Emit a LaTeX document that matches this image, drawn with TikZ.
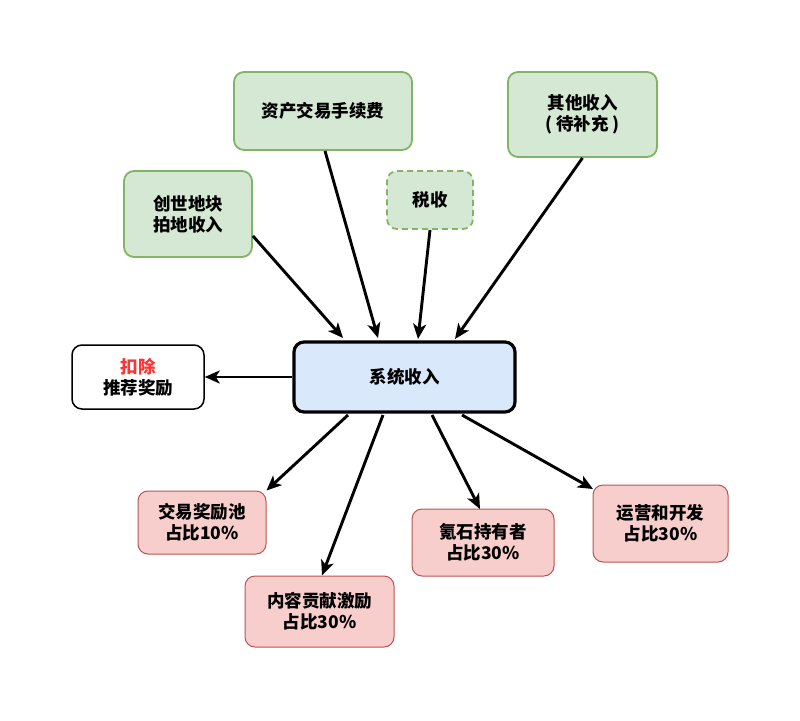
\documentclass[tikz,border=0pt]{standalone}
\usepackage{fontspec}
\setmainfont{Noto Sans CJK SC}
\usetikzlibrary{arrows.meta}
\definecolor{gfill}{HTML}{D5E8D4}
\definecolor{gline}{HTML}{82B366}
\definecolor{rfill}{HTML}{F8CECC}
\definecolor{rline}{HTML}{B85450}
\definecolor{bfill}{HTML}{DAE8FC}
\definecolor{redtxt}{HTML}{FF3333}
\begin{document}
\begin{tikzpicture}[x=1pt,y=-1pt,
  box/.style={rounded corners=10pt, font=\fontsize{17.5}{21}\selectfont\bfseries, align=center},
  src/.style={box, draw=gline, fill=gfill, line width=1.8pt},
  dst/.style={box, draw=rline, fill=rfill, line width=1pt},
  conn/.style={line width=2.9pt, -{Stealth[length=15pt,width=13pt,inset=4pt]}}]
\useasboundingbox (0,0) rectangle (800,720);
% income sources
\node[src, minimum width=178pt, minimum height=78pt] (fee) at (323,111) {资产交易手续费};
\node[src, minimum width=128pt, minimum height=86pt] (land) at (188,214) {创世地块\\拍地收入};
\node[src, dashed, dash pattern=on 6pt off 4pt, minimum width=86pt, minimum height=58pt] (tax) at (430,200) {税收};
\node[src, minimum width=149pt, minimum height=85pt] (other) at (582.5,114.5) {其他收入\\( 待补充 )};
% central node
\node[box, draw=black, fill=bfill, line width=3.2pt, minimum width=221pt, minimum height=70pt] (sys) at (404.5,377) {系统收入};
% deduction
\node[box, draw=black, fill=white, line width=1.5pt, minimum width=132pt, minimum height=64pt] (ded) at (138,377) {\textcolor{redtxt}{扣除}\\推荐奖励};
% distribution targets
\node[dst, minimum width=128pt, minimum height=63pt] (pool) at (202,522.5) {交易奖励池\\占比10\%};
\node[dst, minimum width=149pt, minimum height=71pt] (cont) at (319.5,611.5) {内容贡献激励\\占比30\%};
\node[dst, minimum width=142pt, minimum height=67pt] (hold) at (483,542.5) {氪石持有者\\占比30\%};
\node[dst, minimum width=135pt, minimum height=77pt] (ops) at (660.5,523.5) {运营和开发\\占比30\%};
% incoming connectors
\draw[conn] (land.south east) ++(0,-22) coordinate (l0) (l0) -- (343,338);
\draw[conn] (fee.south) ++(2,0) coordinate (f0) (f0) -- (378,338);
\draw[conn] (tax.south) -- (418,339);
\draw[conn] (other.south) -- (455,339);
% outgoing connectors
\draw[conn] (sys.west) -- (ded.east);
\draw[conn] (348,415) coordinate (o1) (o1) -- (pool.north east);
\draw[conn] (383,415) coordinate (o2) (o2) -- (cont.north -| 322,0);
\draw[conn] (432,415) coordinate (o3) (o3) -- (480,509);
\draw[conn] (462,415) coordinate (o4) (o4) -- (593,489);
\end{tikzpicture}
\end{document}
